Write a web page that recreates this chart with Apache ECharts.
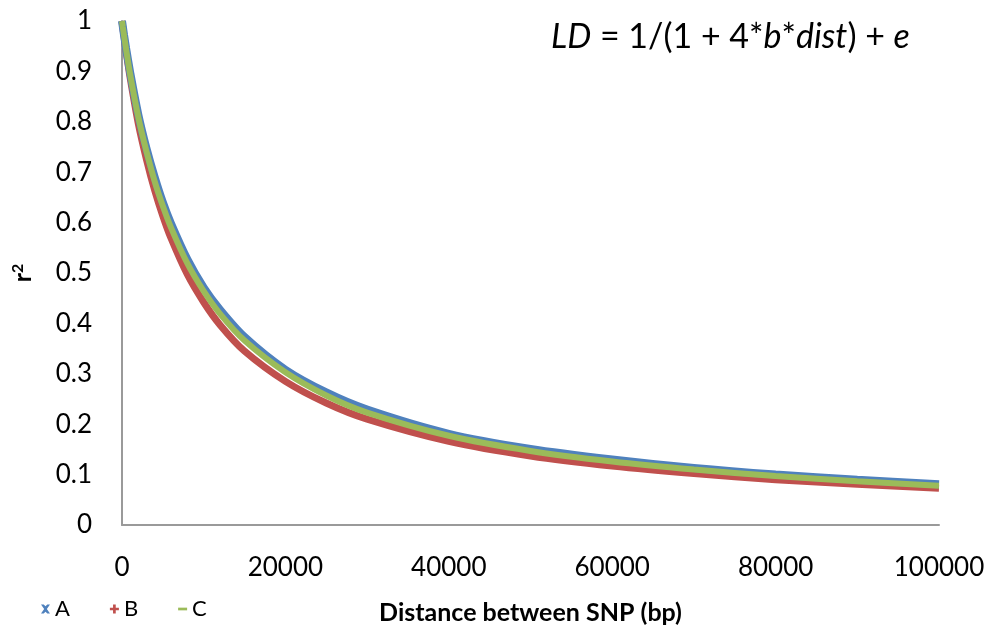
<!DOCTYPE html>
<html><head><meta charset="utf-8">
<script src="https://cdn.jsdelivr.net/npm/echarts@6/dist/echarts.min.js"></script>
<style>html,body{margin:0;padding:0;background:#fff}#c{width:990px;height:630px}</style>
</head><body><div id="c"></div>
<script>
const distances = [0, 100, 250, 500, 1000, 2000, 3000, 4000, 5000, 6000, 8000, 10000, 12000, 15000, 20000, 25000, 30000, 40000, 50000, 60000, 70000, 80000, 90000, 100000];
const seriesA = [1.0, 0.989, 0.972, 0.946, 0.898, 0.814, 0.747, 0.690, 0.640, 0.598, 0.527, 0.471, 0.427, 0.373, 0.308, 0.263, 0.229, 0.181, 0.151, 0.130, 0.113, 0.100, 0.090, 0.081];
const seriesB = [1.0, 0.987, 0.969, 0.940, 0.887, 0.796, 0.725, 0.664, 0.613, 0.569, 0.497, 0.442, 0.397, 0.345, 0.285, 0.242, 0.210, 0.166, 0.137, 0.117, 0.102, 0.090, 0.081, 0.073];
const seriesC = [1.0, 0.988, 0.971, 0.944, 0.894, 0.809, 0.741, 0.682, 0.633, 0.590, 0.519, 0.464, 0.419, 0.366, 0.303, 0.257, 0.223, 0.177, 0.147, 0.126, 0.110, 0.097, 0.087, 0.078];
const seriesNames = ['A', 'B', 'C'];
const colors = ['#4F81BD', '#C0504D', '#9BBB59'];
const yTicks = [0, 0.1, 0.2, 0.3, 0.4, 0.5, 0.6, 0.7, 0.8, 0.9, 1];
const xTicks = [0, 20000, 40000, 60000, 80000, 100000];

const F = 'Lato, "Open Sans", sans-serif';
const pair = arr => distances.map((d, i) => [d, arr[i]]);
const icons = [
  'path://M0,0 L3,0 L5,2 L7,0 L10,0 L6.5,5 L10,10 L7,10 L5,8 L3,10 L0,10 L3.5,5 Z',
  'path://M3.5,0 L6.5,0 L6.5,3.5 L10,3.5 L10,6.5 L6.5,6.5 L6.5,10 L3.5,10 L3.5,6.5 L0,6.5 L0,3.5 L3.5,3.5 Z',
  'path://M0,3.5 L10,3.5 L10,6.5 L0,6.5 Z'
];
const widths = [8, 7, 6];
const zs = [3, 2, 4];
const pick = (arr, v) => { const t = arr.find(x => Math.abs(x - v) < 1e-9); return t === undefined ? '' : String(t); };
const chart = echarts.init(document.getElementById('c'), null, {renderer: 'canvas'});
const dataSets = [seriesA, seriesB, seriesC];
chart.setOption({
  animation: false,
  grid: {left: 122, right: 51, top: 21, bottom: 105},
  legend: {
    left: 36, bottom: 5, itemWidth: 9, itemHeight: 9, itemGap: 40,
    textStyle: {fontFamily: F, fontSize: 22, color: '#000'},
    data: seriesNames.map((n, i) => ({name: n, icon: icons[i], itemStyle: {color: colors[i]}}))
  },
  xAxis: {
    type: 'value', min: 0, max: 100000, interval: 20000,
    name: 'Distance between SNP (bp)', nameLocation: 'middle', nameGap: 75,
    nameTextStyle: {fontFamily: F, fontSize: 25, fontWeight: 'bold', color: '#000'},
    axisLine: {show: true, lineStyle: {color: '#9a9a9a', width: 2}},
    axisTick: {show: false}, splitLine: {show: false},
    axisLabel: {fontFamily: F, fontSize: 26, color: '#000', margin: 30, formatter: v => pick(xTicks, v)}
  },
  yAxis: {
    type: 'value', min: 0, max: 1, interval: 0.1,
    name: 'r{s|2}', nameLocation: 'middle', nameGap: 86, nameRotate: 90,
    nameTextStyle: {fontFamily: F, fontSize: 25, fontWeight: 'bold', color: '#000',
      rich: {s: {fontFamily: F, fontSize: 16, fontWeight: 'bold', color: '#000', verticalAlign: 'top', padding: [0, 0, 10, 0]}}},
    axisLine: {show: true, lineStyle: {color: '#9a9a9a', width: 2}},
    axisTick: {show: false}, splitLine: {show: false},
    axisLabel: {fontFamily: F, fontSize: 26, color: '#000', margin: 30, formatter: v => pick(yTicks, v)}
  },
  series: seriesNames.map((n, i) => ({
    name: n, type: 'line', data: pair(dataSets[i]), smooth: 0.3, z: zs[i],
    showSymbol: false, symbol: icons[i],
    lineStyle: {color: colors[i], width: widths[i]}, itemStyle: {color: colors[i]}
  })),
  graphic: [{
    type: 'text', left: 551, top: 20,
    style: {
      text: '{i|LD} = 1/(1 + 4*{i|b}*{i|dist}) + {i|e}',
      font: '34px ' + F, fill: '#000',
      rich: {i: {fontStyle: 'italic', fontFamily: F, fontSize: 34, fill: '#000'}}
    }
  }]
});
</script></body></html>
